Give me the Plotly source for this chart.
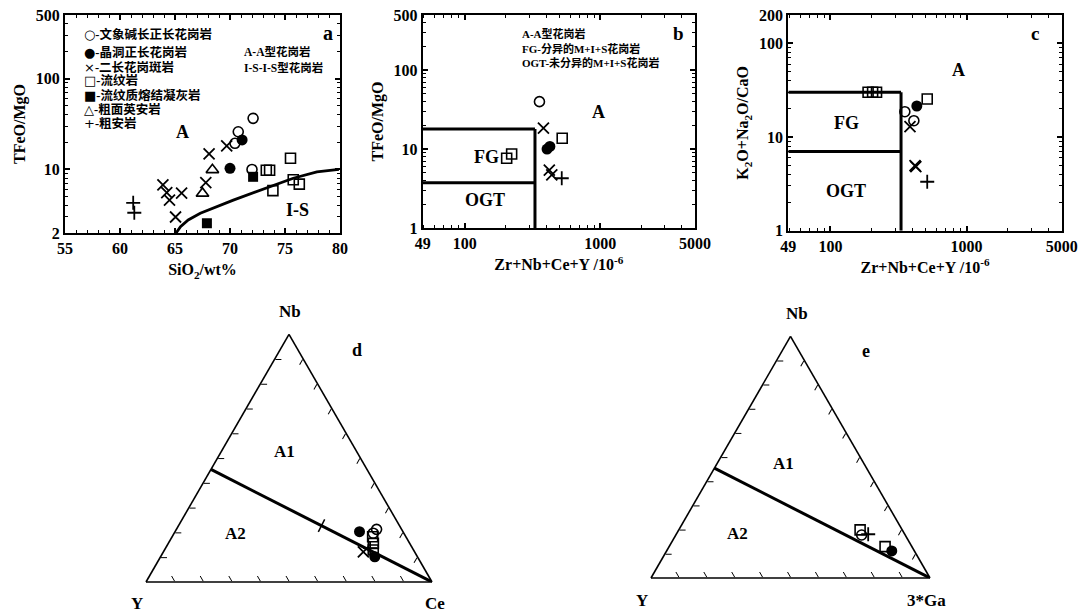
import plotly.graph_objects as go

W, H = 1087, 612
SERIF = "Liberation Serif, Times New Roman, Noto Sans CJK SC, serif"
CJK = "Liberation Serif, Noto Sans CJK SC, serif"

# ---------------- Panel a: SiO2 vs TFeO/MgO ----------------
a_circ_open_x = [72.1, 70.75, 70.45, 72.0]
a_circ_open_y = [36.5, 26.0, 19.4, 10.0]
a_circ_fill_x = [71.1, 70.0]
a_circ_fill_y = [21.1, 10.3]
a_x_x = [69.7, 68.1, 67.8, 63.9, 64.25, 65.6, 64.5, 65.05]
a_x_y = [18.2, 14.8, 7.15, 6.75, 5.55, 5.5, 4.6, 3.0]
a_sq_open_x = [75.5, 73.3, 73.6, 75.75, 76.3, 73.9]
a_sq_open_y = [13.3, 9.8, 9.8, 7.7, 6.9, 5.85]
a_sq_fill_x = [72.1, 67.9]
a_sq_fill_y = [8.3, 2.56]
a_tri_x = [68.4, 67.5]
a_tri_y = [9.9, 5.45]
a_plus_x = [61.2, 61.3]
a_plus_y = [4.3, 3.34]
a_curve_x = [65.1, 65.5, 66.2, 67.3, 70.3, 73.3, 75.75, 77.9, 79.9]
a_curve_y = [2.0, 2.35, 2.78, 3.3, 4.6, 6.2, 8.0, 9.4, 10.0]

# ---------------- Panel b: Zr+Nb+Ce+Y vs TFeO/MgO ----------------
b_circ_open_x = [356]
b_circ_open_y = [39.9]
b_circ_fill_x = [405, 425]
b_circ_fill_y = [10.0, 10.8]
b_x_x = [381, 421, 439]
b_x_y = [18.4, 5.4, 4.7]
b_sq_open_x = [204, 222, 524]
b_sq_open_y = [7.65, 8.67, 13.7]
b_plus_x = [520]
b_plus_y = [4.27]
b_fg_top, b_ogt_top, b_split = 18.0, 3.75, 330

# ---------------- Panel c: Zr+Nb+Ce+Y vs (K2O+Na2O)/CaO ----------------
c_circ_open_x = [352, 410]
c_circ_open_y = [18.6, 14.9]
c_circ_fill_x = [431]
c_circ_fill_y = [21.4]
c_x_x = [384, 424, 418]
c_x_y = [12.9, 4.82, 4.95]
c_sq_open_x = [189, 204, 218, 514]
c_sq_open_y = [30, 30, 30, 25.4]
c_plus_x = [514]
c_plus_y = [3.33]
c_fg_top, c_ogt_top, c_split = 30.0, 7.0, 330

# ---------------- Panel d: Nb - Y - Ce ----------------
d_circ_fill = dict(nb=[0.203, 0.102], y=[0.152, 0.149], ce=[0.645, 0.749])
d_circ_open = dict(nb=[0.2125, 0.197], y=[0.0875, 0.107], ce=[0.70, 0.696])
d_sq_open = dict(nb=[0.183, 0.156, 0.129], y=[0.116, 0.127, 0.141], ce=[0.701, 0.717, 0.730])
d_x = dict(nb=[0.122], y=[0.179], ce=[0.699])
d_plus = dict(nb=[0.137], y=[0.148], ce=[0.715])

# ---------------- Panel e: Nb - Y - 3*Ga ----------------
e_sq_open = dict(nb=[0.199, 0.13], y=[0.151, 0.096], ga=[0.650, 0.774])
e_circ_open = dict(nb=[0.178], y=[0.156], ga=[0.666])
e_plus = dict(nb=[0.181], y=[0.131], ga=[0.688])
e_circ_fill = dict(nb=[0.112], y=[0.081], ga=[0.807])

# A1/A2 boundary (Y/Nb = 1.2) from the Nb-Y edge to the third apex
bound_nb = [1 / 2.2, 0.0]
bound_y = [1.2 / 2.2, 0.0]
bound_c = [0.0, 1.0]
# small cross mark on the boundary line (panel d)
mark_nb = [0.2273]
mark_y = [0.2727]
mark_c = [0.5]

legend_symbols = ["○", "●", "×", "□", "■", "△", "+"]
legend_names = ["-文象碱长正长花岗岩", "-晶洞正长花岗岩", "-二长花岗斑岩", "-流纹岩",
                "-流纹质熔结凝灰岩", "-粗面英安岩", "-粗安岩"]


def px(x):
    return x / W


def py(y):
    return 1 - y / H


fig = go.Figure()

STY = {
    "circ_open": dict(symbol="circle-open", size=10, line=dict(width=1.6, color="black"), color="black"),
    "circ_fill": dict(symbol="circle", size=11, color="black", line=dict(width=0)),
    "x": dict(symbol="x-thin-open", size=11, line=dict(width=1.8, color="black"), color="black"),
    "sq_open": dict(symbol="square-open", size=10, line=dict(width=1.6, color="black"), color="black"),
    "sq_fill": dict(symbol="square", size=10, color="black", line=dict(width=0)),
    "tri": dict(symbol="triangle-up-open", size=11, line=dict(width=1.6, color="black"), color="black"),
    "plus": dict(symbol="cross-thin-open", size=10, line=dict(width=1.8, color="black"), color="black"),
}


def sc(x, y, sty, xa, ya):
    fig.add_trace(go.Scatter(x=x, y=y, mode="markers", marker=STY[sty], xaxis=xa, yaxis=ya,
                             showlegend=False, hoverinfo="skip"))


def ln(x, y, xa, ya, w=3):
    fig.add_trace(go.Scatter(x=x, y=y, mode="lines", line=dict(color="black", width=w), xaxis=xa, yaxis=ya,
                             showlegend=False, hoverinfo="skip"))


# panel a
ln(a_curve_x, a_curve_y, "x", "y", 2.8)
sc(a_circ_open_x, a_circ_open_y, "circ_open", "x", "y")
sc(a_circ_fill_x, a_circ_fill_y, "circ_fill", "x", "y")
sc(a_x_x, a_x_y, "x", "x", "y")
sc(a_sq_open_x, a_sq_open_y, "sq_open", "x", "y")
sc(a_sq_fill_x, a_sq_fill_y, "sq_fill", "x", "y")
sc(a_tri_x, a_tri_y, "tri", "x", "y")
sc(a_plus_x, a_plus_y, "plus", "x", "y")

# panel b
ln([49, b_split], [b_fg_top, b_fg_top], "x2", "y2")
ln([49, b_split], [b_ogt_top, b_ogt_top], "x2", "y2")
ln([b_split, b_split], [1, b_fg_top], "x2", "y2")
sc(b_circ_open_x, b_circ_open_y, "circ_open", "x2", "y2")
sc(b_circ_fill_x, b_circ_fill_y, "circ_fill", "x2", "y2")
sc(b_x_x, b_x_y, "x", "x2", "y2")
sc(b_sq_open_x, b_sq_open_y, "sq_open", "x2", "y2")
sc(b_plus_x, b_plus_y, "plus", "x2", "y2")

# panel c
ln([49, c_split], [c_fg_top, c_fg_top], "x3", "y3")
ln([49, c_split], [c_ogt_top, c_ogt_top], "x3", "y3")
ln([c_split, c_split], [1, c_fg_top], "x3", "y3")
sc(c_circ_open_x, c_circ_open_y, "circ_open", "x3", "y3")
sc(c_circ_fill_x, c_circ_fill_y, "circ_fill", "x3", "y3")
sc(c_x_x, c_x_y, "x", "x3", "y3")
sc(c_sq_open_x, c_sq_open_y, "sq_open", "x3", "y3")
sc(c_plus_x, c_plus_y, "plus", "x3", "y3")


def tern(a, b, c, sty, sub, mode="markers"):
    if mode == "lines":
        fig.add_trace(go.Scatterternary(a=a, b=b, c=c, mode="lines", line=dict(color="black", width=3),
                                        subplot=sub, showlegend=False, hoverinfo="skip"))
    else:
        fig.add_trace(go.Scatterternary(a=a, b=b, c=c, mode="markers", marker=STY[sty] if isinstance(sty, str) else sty,
                                        subplot=sub, showlegend=False, hoverinfo="skip"))


tern(bound_nb, bound_y, bound_c, None, "ternary", "lines")
tern(mark_nb, mark_y, mark_c, dict(symbol="line-ns-open", size=10, angle=27, color="black",
                                   line=dict(width=1.5, color="black")), "ternary")
tern(d_circ_fill["nb"], d_circ_fill["y"], d_circ_fill["ce"], "circ_fill", "ternary")
tern(d_circ_open["nb"], d_circ_open["y"], d_circ_open["ce"], "circ_open", "ternary")
tern(d_sq_open["nb"], d_sq_open["y"], d_sq_open["ce"], "sq_open", "ternary")
tern(d_x["nb"], d_x["y"], d_x["ce"], "x", "ternary")
tern(d_plus["nb"], d_plus["y"], d_plus["ce"], "plus", "ternary")

tern(bound_nb, bound_y, bound_c, None, "ternary2", "lines")
tern(e_sq_open["nb"], e_sq_open["y"], e_sq_open["ga"], "sq_open", "ternary2")
tern(e_circ_open["nb"], e_circ_open["y"], e_circ_open["ga"], "circ_open", "ternary2")
tern(e_plus["nb"], e_plus["y"], e_plus["ga"], "plus", "ternary2")
tern(e_circ_fill["nb"], e_circ_fill["y"], e_circ_fill["ga"], "circ_fill", "ternary2")

TICKF = dict(family=SERIF, size=16, color="black")
TITF = dict(family=SERIF, size=16, color="black")


def axstyle(**kw):
    d = dict(showline=True, linecolor="black", linewidth=2, mirror="ticks", ticks="inside", ticklen=5,
             tickwidth=1.5, tickcolor="black", showgrid=False, zeroline=False, tickfont=TICKF,
             automargin=False)
    d.update(kw)
    return d


def minor(vals):
    return dict(tickvals=vals, ticks="inside", ticklen=3, tickwidth=1.2, tickcolor="black", showgrid=False)


dec_minor_1_500 = [2, 3, 4, 5, 6, 7, 8, 9, 20, 30, 40, 50, 60, 70, 80, 90, 200, 300, 400]
x_minor_log = [50, 60, 70, 80, 90, 200, 300, 400, 500, 600, 700, 800, 900, 2000, 3000, 4000]

fig.update_layout(
    width=W, height=H, margin=dict(l=0, r=0, t=0, b=0, autoexpand=False),
    paper_bgcolor="white", plot_bgcolor="white", showlegend=False,
    xaxis=axstyle(domain=[px(65), px(340)], range=[55, 80], tickvals=[55, 60, 65, 70, 75, 80],
                  ticktext=["<b>%d</b>" % v for v in [55, 60, 65, 70, 75, 80]],
                  minor=minor(list(range(56, 80))), anchor="y",
                  title=dict(text="<b>SiO<sub>2</sub>/wt%</b>", font=TITF, standoff=8)),
    yaxis=axstyle(domain=[py(233), py(15)], type="log", range=[0.30103, 2.69897], tickvals=[2, 10, 100, 500],
                  ticktext=["<b>2</b>", "<b>10</b>", "<b>100</b>", "<b>500</b>"],
                  minor=minor([3, 4, 5, 6, 7, 8, 9] + dec_minor_1_500[8:]), anchor="x",
                  title=dict(text="<b>TFeO/MgO</b>", font=TITF, standoff=6)),
    xaxis2=axstyle(domain=[px(422.7), px(695)], type="log", range=[1.690196, 3.69897],
                   tickvals=[49, 100, 1000, 5000], ticktext=["<b>49</b>", "<b>100</b>", "<b>1000</b>", "<b>5000</b>"],
                   minor=minor(x_minor_log), anchor="y2",
                   title=dict(text="<b>Zr+Nb+Ce+Y /10<sup>-6</sup></b>", font=TITF, standoff=8)),
    yaxis2=axstyle(domain=[py(228), py(15)], type="log", range=[0, 2.69897], tickvals=[1, 10, 100, 500],
                   ticktext=["<b>1</b>", "<b>10</b>", "<b>100</b>", "<b>500</b>"],
                   minor=minor(dec_minor_1_500), anchor="x2",
                   title=dict(text="<b>TFeO/MgO</b>", font=TITF, standoff=6)),
    xaxis3=axstyle(domain=[px(788.3), px(1061.7)], type="log", range=[1.690196, 3.69897],
                   tickvals=[49, 100, 1000, 5000], ticktext=["<b>49</b>", "<b>100</b>", "<b>1000</b>", "<b>5000</b>"],
                   minor=minor(x_minor_log), anchor="y3",
                   title=dict(text="<b>Zr+Nb+Ce+Y /10<sup>-6</sup></b>", font=TITF, standoff=8)),
    yaxis3=axstyle(domain=[py(230.7), py(15)], type="log", range=[0, 2.30103], tickvals=[1, 10, 100, 200],
                   ticktext=["<b>1</b>", "<b>10</b>", "<b>100</b>", "<b>200</b>"],
                   minor=minor([2, 3, 4, 5, 6, 7, 8, 9, 20, 30, 40, 50, 60, 70, 80, 90]), anchor="x3",
                   title=dict(text="<b>K<sub>2</sub>O+Na<sub>2</sub>O/CaO</b>", font=TITF, standoff=6)),
)

TA = dict(showticklabels=False, ticks="inside", ticklen=6, tickwidth=1.2, tickcolor="black", dtick=0.1,
          linecolor="black", linewidth=1.6, showgrid=False, title=dict(text=""))

fig.update_layout(
    ternary=dict(domain=dict(x=[px(146), px(432)], y=[py(582), py(582 - 286 * 0.8660254)]), sum=1,
                 bgcolor="white", aaxis=TA, baxis=TA, caxis=TA),
    ternary2=dict(domain=dict(x=[px(651), px(930)], y=[py(578), py(578 - 279 * 0.8660254)]), sum=1,
                  bgcolor="white", aaxis=TA, baxis=TA, caxis=TA),
)

ann = []


def note(x, y, text, size=15, xanchor="center", xref="paper", yref="paper", family=SERIF):
    ann.append(dict(x=x, y=y, xref=xref, yref=yref, text=text, showarrow=False, xanchor=xanchor,
                    yanchor="middle", font=dict(family=family, size=size, color="black")))


# panel a texts (legend written as text)
ys = [34.3, 52.7, 67.3, 81, 95, 109.3, 124]
for s, t, yy in zip(legend_symbols, legend_names, ys):
    note(px(82), py(yy),
         "<span style=\"font-family:'DejaVu Sans';font-size:13px\">%s</span><b>%s</b>" % (s, t),
         size=12.5, xanchor="left", family=CJK)
note(px(242), py(51.7), "<b>A-A型花岗岩</b>", size=11.5, xanchor="left", family=CJK)
note(px(242), py(67.7), "<b>I-S-I-S型花岗岩</b>", size=11.5, xanchor="left", family=CJK)
note(px(328), py(33), "<b>a</b>", size=20)
note(px(182.7), py(131.7), "<b>A</b>", size=18)
note(px(297.7), py(210), "<b>I-S</b>", size=18)

# panel b texts
note(px(520), py(33.3), "<b>A-A型花岗岩</b>", size=11, xanchor="left", family=CJK)
note(px(520), py(48.3), "<b>FG-分异的M+I+S花岗岩</b>", size=11, xanchor="left", family=CJK)
note(px(520), py(62.7), "<b>OGT-未分异的M+I+S花岗岩</b>", size=11, xanchor="left", family=CJK)
note(px(678.3), py(33.3), "<b>b</b>", size=19)
note(px(598.3), py(111.7), "<b>A</b>", size=18)
note(px(486.7), py(156.7), "<b>FG</b>", size=18)
note(px(485), py(200), "<b>OGT</b>", size=18)

# panel c texts
note(px(1035), py(33.3), "<b>c</b>", size=19)
note(px(958.3), py(70), "<b>A</b>", size=18)
note(px(846.7), py(123.3), "<b>FG</b>", size=18)
note(px(846), py(190.7), "<b>OGT</b>", size=18)

# ternary corner titles and panel texts
note(px(290), py(311.7), "<b>Nb</b>", size=17)
note(px(137.3), py(603), "<b>Y</b>", size=17)
note(px(435), py(603), "<b>Ce</b>", size=17)
note(px(797.3), py(313.3), "<b>Nb</b>", size=17)
note(px(641.7), py(600), "<b>Y</b>", size=17)
note(px(926.7), py(600), "<b>3*Ga</b>", size=17)
note(px(356.7), py(350), "<b>d</b>", size=18)
note(px(284), py(451.7), "<b>A1</b>", size=17)
note(px(235.7), py(533), "<b>A2</b>", size=17)
note(px(866), py(351), "<b>e</b>", size=18)
note(px(783.3), py(463.3), "<b>A1</b>", size=17)
note(px(737.7), py(533.3), "<b>A2</b>", size=17)

fig.update_layout(annotations=ann)
fig.write_html("out.html", config={"displayModeBar": False},
               post_script="document.body.style.margin='0px';")
